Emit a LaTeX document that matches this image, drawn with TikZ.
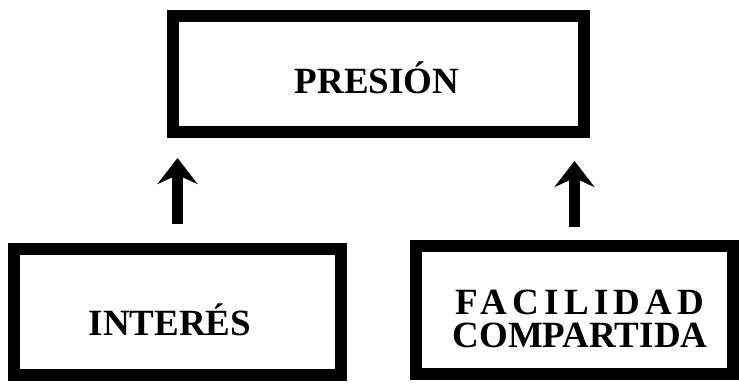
\documentclass[tikz,border=0pt]{standalone}
\usepackage{fontspec}
\setmainfont{Liberation Serif}
\usetikzlibrary{arrows.meta}
\usetikzlibrary{positioning}

\tikzset{
  box/.style={draw, line width=12pt, rectangle, inner sep=0pt},
  boxtext/.style={font=\bfseries\fontsize{37}{33}\selectfont, align=center, inner sep=0pt},
  uparrow/.style={line width=11pt, -{Stealth[length=26pt,width=40pt,inset=9pt]}}
}

\begin{document}
\begin{tikzpicture}[x=1pt,y=-1pt]
        \useasboundingbox (0,0) rectangle (739,383);
        % boxes
        \node[box, minimum width=411pt, minimum height=116pt] (presion) at (378.5,74) {};
        \node[box, minimum width=327pt, minimum height=126pt] (interes) at (177.5,312) {};
        \node[box, minimum width=317pt, minimum height=128pt] (facilidad) at (574.5,310) {};

        % texts
        \node[boxtext, anchor=base] (presiontext) at (377,93) {PRESIÓN};
        \node[boxtext, anchor=base] (interestext) at (170,335) {INTERÉS};
        \node[boxtext] (facilidadtext) at (580,319)
            {{\addfontfeature{LetterSpace=14}FACILIDAD}\\COMPARTIDA};

        % arrows
        \draw[uparrow, shorten <=19pt, shorten >=20pt] (interes.north) -- (presion.south -| interes.north);
        \draw[uparrow, shorten <=13pt, shorten >=23pt] (facilidad.north) -- (presion.south -| facilidad.north);
    \end{tikzpicture}
\end{document}
